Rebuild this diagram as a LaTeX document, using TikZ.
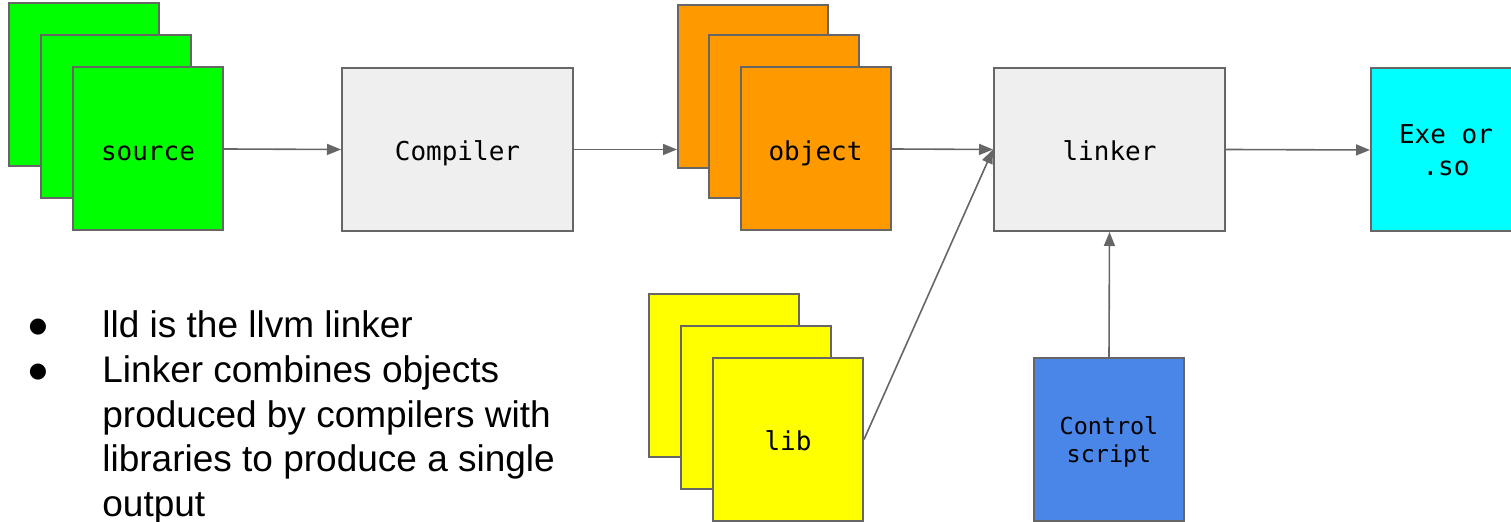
\documentclass[tikz,border=0pt]{standalone}
\usepackage{fontspec}
\setmainfont{Liberation Sans}
\newfontfamily\codefont{DejaVu Sans Mono}
\newfontfamily\dotfont{DejaVu Sans}
\usetikzlibrary{arrows.meta}

\definecolor{BoxBorder}{HTML}{666666}
\definecolor{SourceGreen}{HTML}{00FF00}
\definecolor{ToolGrey}{HTML}{EFEFEF}
\definecolor{ObjectOrange}{HTML}{FF9900}
\definecolor{LibYellow}{HTML}{FFFF00}
\definecolor{ScriptBlue}{HTML}{4A86E8}
\definecolor{OutputCyan}{HTML}{00FFFF}

\tikzstyle{file-box}=[draw=BoxBorder, line width=1pt, inner sep=0pt,
      minimum width=75pt, minimum height=81.5pt, align=center,
      font={\codefont\fontsize{13}{16}\selectfont}]
\tikzstyle{one-line}=[text height=14.5pt, text depth=3pt]
\tikzstyle{tool-box}=[file-box, one-line, fill=ToolGrey, minimum width=115.5pt]
\tikzstyle{flow}=[draw=BoxBorder, line width=0.8pt, -{Triangle[length=7pt,width=5.5pt]}]
\tikzstyle{bullet-dot}=[inner sep=0pt, font={\dotfont\fontsize{10.5}{10.5}\selectfont}]
\tikzstyle{bullet-text}=[inner sep=0pt, anchor=base west, align=left,
      font={\fontsize{18.5}{22.25}\selectfont}]

\begin{document}
\begin{tikzpicture}[x=0.5pt, y=-0.5pt]
      \useasboundingbox (0,0) rectangle (1511,522);

      % source files
      \node (src-back)  at (84,85)   [file-box, fill=SourceGreen] {};
      \node (src-mid)   at (116,117) [file-box, fill=SourceGreen] {};
      \node (src-front) at (148,149) [file-box, one-line, fill=SourceGreen] {source};

      \node (compiler) at (457.5,149.5) [tool-box] {Compiler};

      % object files
      \node (obj-back)  at (753,86.5)  [file-box, fill=ObjectOrange] {};
      \node (obj-mid)   at (784,117)   [file-box, fill=ObjectOrange] {};
      \node (obj-front) at (815.5,149) [file-box, one-line, fill=ObjectOrange] {object};

      \node (linker) at (1109.5,149.5) [tool-box] {linker};

      \node (output) at (1446,150) [file-box, fill=OutputCyan] {Exe or\\.so};

      % libraries
      \node (lib-back)  at (724,375.5) [file-box, fill=LibYellow] {};
      \node (lib-mid)   at (756,407.5) [file-box, fill=LibYellow] {};
      \node (lib-front) at (788,439.5) [file-box, one-line, fill=LibYellow] {lib};

      \node (script) at (1109,439.5) [file-box, fill=ScriptBlue, text depth=0pt,
            font={\codefont\fontsize{11.7}{14}\selectfont}] {Control\\script};

      \draw [flow] (src-front.east) -- (compiler.west);
      \draw [flow] (compiler.east) -- (compiler.east -| obj-back.west);
      \draw [flow] (obj-front.east) -- (linker.west);
      \draw [flow] (lib-front.east) -- (linker.west);
      \draw [flow] (script.north) -- (linker.south);
      \draw [flow] (linker.east) -- (output.west);

      % notes (base of the last line)
      \node (note-dot1) at (38,327) [bullet-dot] {●};
      \node (note-dot2) at (38,372) [bullet-dot] {●};
      \node (note-lld) at (102,338) [bullet-text] {lld is the llvm linker};
      \node (note-linker) at (102,516.5) [bullet-text]
            {Linker combines objects\\produced by compilers with\\libraries to produce a single\\output};
\end{tikzpicture}
\end{document}
